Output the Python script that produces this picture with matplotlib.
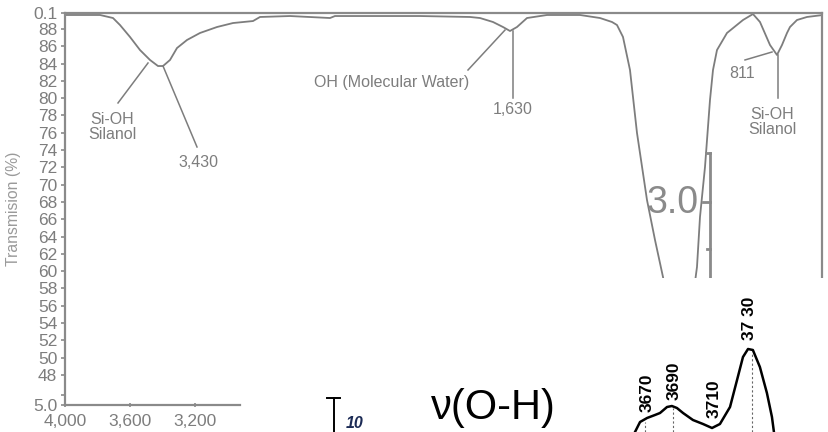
import matplotlib
matplotlib.use("Agg")
import matplotlib.pyplot as plt

plt.rcParams["font.family"] = ["Liberation Sans", "DejaVu Sans"]

GRAY = "#7d7d7d"
SPINE = "#8a8a8a"
LABEL = "#9a9a9a"

# ── FTIR transmission spectrum (gray, upper panel) ─────────────────
wavenumber = [3993.8, 3876.9, 3784.6, 3704.6, 3661.5, 3600.0, 3538.5, 3476.9,
              3427.7, 3396.9, 3353.8, 3310.8, 3249.2, 3169.2, 3064.6, 2966.2,
              2843.1, 2800.0, 2615.4, 2369.2, 2338.5, 2061.5, 1815.4, 1507.7,
              1446.2, 1366.2, 1304.6, 1261.5, 1218.5, 1156.9, 1033.8, 830.8,
              707.7, 633.8, 603.1, 566.2, 523.1, 480.0, 418.5, 369.2, 320.0,
              276.9, 215.4, 153.8, 110.8, 92.3, 61.5, 30.8, 12.3, -12.3,
              -73.8, -172.3, -233.8, -276.9, -338.5, -381.5, -412.3, -443.1,
              -461.5, -504.6, -566.2, -664.6]
transmission = [89.62, 89.62, 89.62, 89.27, 88.46, 87.08, 85.57, 84.42,
                83.72, 83.72, 84.42, 85.80, 86.73, 87.54, 88.23, 88.69,
                88.92, 89.39, 89.50, 89.27, 89.50, 89.50, 89.50, 89.39,
                89.27, 88.81, 88.23, 87.77, 88.23, 89.27, 89.62, 89.62,
                89.27, 88.81, 88.46, 87.08, 83.26, 75.98, 68.23, 63.61, 59.33,
                54.36, 52.05, 54.36, 60.49, 66.27, 72.05, 79.79, 83.26, 85.57,
                87.54, 89.04, 89.73, 88.81, 86.15, 85.00, 86.15, 87.54,
                88.23, 89.04, 89.39, 89.62]

ytick_pos = [44.53] + list(range(48, 90, 2)) + [89.85]
ytick_lab = ["5.0"] + [str(v) for v in range(48, 90, 2)] + ["0.1"]
xtick_pos = [4000, 3600, 3200]
xtick_lab = ["4,000", "3,600", "3,200"]

# ── ν(O-H) absorbance spectrum (black, lower right) ───────────────
oh_wn = [3666.4, 3669.2, 3673.1, 3677.5, 3680.3, 3684.2, 3686.9, 3689.7,
         3693.1, 3698.6, 3704.2, 3709.2, 3713.6, 3719.2, 3723.1, 3726.4,
         3729.2, 3731.9, 3735.8, 3739.7, 3742.5, 3743.6, 3744.7]
oh_abs = [0.00, 0.10, 0.14, 0.17, 0.19, 0.25, 0.26, 0.24,
          0.19, 0.12, 0.08, 0.04, 0.08, 0.25, 0.52, 0.75,
          0.83, 0.82, 0.65, 0.39, 0.15, 0.00, -0.13]
peak_pos = [3672.0, 3687.5, 3731.4]
peak_top = [0.10, 0.24, 0.80]
peak_labels = ["3670", "3690", "3710", "37 30"]
peak_label_x = [3673.1, 3688.1, 3710.3, 3730.3]
peak_label_y = [0.20, 0.32, 0.14, 0.92]

fig = plt.figure(figsize=(8.29, 4.32), dpi=100)
fig.patch.set_facecolor("white")

ax = fig.add_axes([65 / 829, 1 - 405 / 432, 757 / 829, 392 / 432])
ax.plot(wavenumber, transmission, color=GRAY, lw=1.3)
ax.set_xlim(4000, -658.5)
ax.set_ylim(44.53, 89.85)

for side in ["left", "bottom", "top", "right"]:
    ax.spines[side].set_color(SPINE)
    ax.spines[side].set_linewidth(1.6)
ax.spines["bottom"].set_bounds(2923, 4000)
ax.spines["right"].set_bounds(59.33, 89.85)

ax.set_yticks(ytick_pos, ytick_lab)
ax.set_yticks([45.69], minor=True)
ax.set_xticks(xtick_pos, xtick_lab)
ax.tick_params(axis="both", which="both", colors=SPINE, labelcolor=GRAY,
               labelsize=12.5, length=3, width=1.2, pad=2.5)
ax.tick_params(axis="x", direction="inout", pad=5)
ax.set_ylabel("Transmision (%)", color=LABEL, fontsize=11.3)
ax.yaxis.set_label_coords(-0.058, 0.50)

# ── Peak annotations ──────────────────────────────────────────────
def pointer(x1, y1, x2, y2):
    ax.plot([x1, x2], [y1, y2], color=GRAY, lw=1.1)

pointer(3673.8, 79.45, 3489.2, 84.07)
pointer(3396.9, 83.72, 3187.7, 74.36)
ax.text(3710.8, 76.67, "Si-OH\nSilanol", ha="center", va="center",
        fontsize=11.5, color=GRAY, linespacing=1.0)
ax.text(3181.5, 72.51, "3,430", ha="center", va="center", fontsize=11.5, color=GRAY)

pointer(1520.0, 83.26, 1292.3, 87.88)
pointer(1243.1, 87.77, 1243.1, 80.02)
ax.text(1987.7, 81.76, "OH (Molecular Water)", ha="center", va="center",
        fontsize=11.5, color=GRAY)
ax.text(1243.1, 78.64, "1,630", ha="center", va="center", fontsize=11.5, color=GRAY)

pointer(-184.6, 84.42, -350.8, 85.34)
pointer(-387.7, 85.0, -387.7, 80.02)
ax.text(-166.2, 82.91, "811", ha="center", va="center", fontsize=11.5, color=GRAY)
ax.text(-350.8, 77.25, "Si-OH\nSilanol", ha="center", va="center",
        fontsize=11.5, color=GRAY, linespacing=1.0)

# ── Fragment of a second scale ("3.0") ────────────────────────────
ax.plot([30.8, 30.8], [73.67, 59.33], color=SPINE, lw=2)
ax.plot([55.4, 30.8], [73.67, 73.67], color=SPINE, lw=2)
ax.plot([73.8, 30.8], [68.0, 68.0], color=SPINE, lw=2)
ax.plot([49.2, 30.8], [62.57, 62.57], color=SPINE, lw=2)
ax.text(98.5, 67.88, "3.0", ha="right", va="center", fontsize=27, color=SPINE)

# ── Lower right: ν(O-H) panel ─────────────────────────────────────
ax2 = fig.add_axes([245 / 829, 0, 584 / 829, 154 / 432], facecolor="white")
for side in ax2.spines.values():
    side.set_visible(False)
ax2.set_xticks([])
ax2.set_yticks([])
ax2.set_xlim(3449.7, 3774.2)
ax2.set_ylim(0, 1.54)

ax2.plot(oh_wn, oh_abs, color="black", lw=1.8)
ax2.vlines(peak_pos, 0, peak_top, colors="#666666", lw=0.8,
           linestyles=(0, (2, 2)))
for x, y, t in zip(peak_label_x, peak_label_y, peak_labels):
    ax2.text(x, y, t, rotation=90, ha="center", va="bottom",
             fontsize=12.5, fontweight="bold", color="black")

ax2.text(3587.5, 0.245, "ν(O-H)", ha="center", va="center",
         fontsize=30, color="black")

ax2.plot([3495.3, 3502.5], [0.34, 0.34], color="black", lw=1.4)
ax2.plot([3498.9, 3498.9], [0.34, -0.1], color="black", lw=1.4)
ax2.text(3505.8, 0.005, "10", ha="left", va="bottom", fontsize=11.5,
         fontweight="bold", style="italic", color="#1c2b55")

fig.savefig("out.png", dpi=100, facecolor="white")
